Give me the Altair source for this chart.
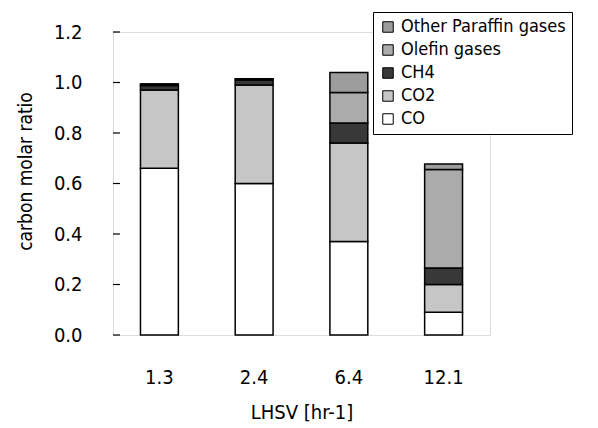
import altair as alt
import pandas as pd

categories = ["1.3", "2.4", "6.4", "12.1"]
species = ["Other Paraffin gases", "Olefin gases", "CH4", "CO2", "CO"]
co = [0.66, 0.60, 0.37, 0.09]
co2 = [0.31, 0.39, 0.39, 0.11]
ch4 = [0.018, 0.02, 0.08, 0.065]
olefin = [0.006, 0.005, 0.12, 0.39]
other = [0.0, 0.0, 0.08, 0.022]
colors = ["#9c9c9c", "#ababab", "#383838", "#c6c6c6", "#ffffff"]
y_ticks = [0.0, 0.2, 0.4, 0.6, 0.8, 1.0, 1.2]

series = {"CO": co, "CO2": co2, "CH4": ch4, "Olefin gases": olefin,
          "Other Paraffin gases": other}
stack_order = {"CO": 0, "CO2": 1, "CH4": 2, "Olefin gases": 3,
               "Other Paraffin gases": 4}
rows = []
for name, vals in series.items():
    for c, v in zip(categories, vals):
        rows.append({"LHSV": c, "species": name, "value": v,
                     "ord": stack_order[name]})
df = pd.DataFrame(rows)
tick_df = pd.DataFrame({"t": y_ticks})

FONT = "DejaVu Sans Condensed"

bars = alt.Chart(df).mark_bar(stroke="black", strokeWidth=1.5).encode(
    x=alt.X("LHSV:N", sort=categories,
            scale=alt.Scale(paddingInner=0.6, paddingOuter=0.29),
            axis=alt.Axis(title="LHSV [hr-1]", labelAngle=0, tickSize=0,
                          labelPadding=32, labelFontSize=20,
                          titleFontSize=20, titleFontWeight="normal",
                          titleY=77, titleBaseline="middle", domain=False)),
    y=alt.Y("value:Q", stack="zero",
            scale=alt.Scale(domain=[0, 1.2], nice=False),
            axis=alt.Axis(title="carbon molar ratio", values=y_ticks,
                          format=".1f", tickSize=0, labelPadding=31,
                          labelFontSize=20, titleFontSize=19,
                          titleFontWeight="normal", grid=False, domain=False,
                          titleX=-88, titleY=139, titleAngle=-90,
                          titleAlign="center", titleBaseline="middle")),
    fill=alt.Fill("species:N",
                  scale=alt.Scale(domain=species, range=colors),
                  legend=alt.Legend(title=None, orient="none", legendX=260,
                                    legendY=-20, symbolType="square",
                                    symbolSize=110, symbolStrokeColor="black",
                                    symbolStrokeWidth=1, labelFontSize=18,
                                    rowPadding=5, padding=6,
                                    strokeColor="black", fillColor="white",
                                    labelLimit=300)),
    order=alt.Order("ord:Q", sort="ascending"),
)

ticks = alt.Chart(tick_df).mark_rule(color="black", strokeWidth=1.2).encode(
    y=alt.Y("t:Q"), x=alt.value(0), x2=alt.value(7)
)

chart = alt.layer(bars, ticks).properties(
    width=377, height=303,
    autosize=alt.AutoSizeParams(type="none"),
    padding={"left": 105, "top": 24, "right": 100, "bottom": 88},
).configure_view(stroke="black", strokeWidth=1.5).configure(
    font=FONT
).configure_axis(labelColor="black", titleColor="black",
                 labelFont=FONT, titleFont=FONT
).configure_legend(labelFont=FONT, labelColor="black")

chart.save("out.html", embed_options={"renderer": "svg", "actions": False})
